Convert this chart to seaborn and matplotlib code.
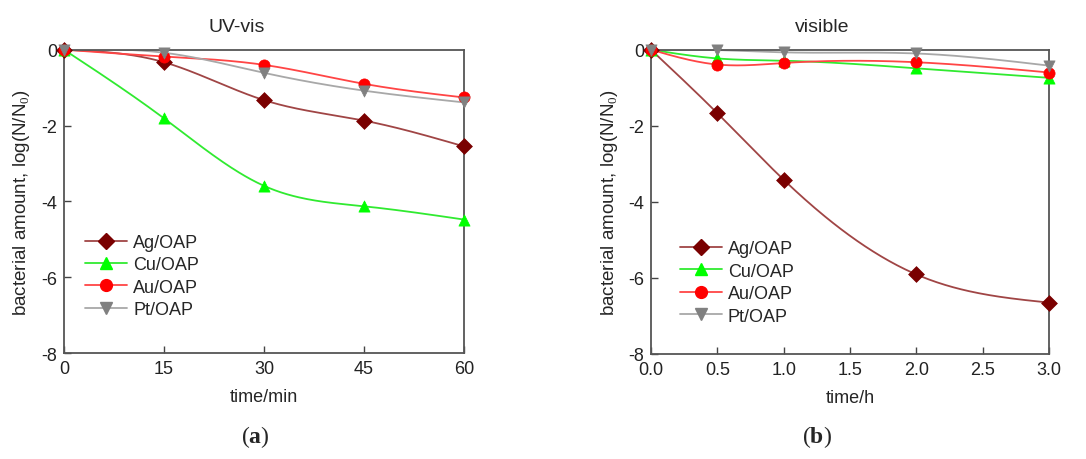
import numpy as np
import pandas as pd
import seaborn as sns
import matplotlib.pyplot as plt
from matplotlib.lines import Line2D

# values
samples = ["Ag/OAP", "Cu/OAP", "Au/OAP", "Pt/OAP"]

time_uv = [0, 15, 30, 45, 60]
ag_uv = [0, -0.33, -1.33, -1.87, -2.55]
cu_uv = [0, -1.81, -3.59, -4.13, -4.48]
au_uv = [0, -0.18, -0.40, -0.90, -1.26]
pt_uv = [0, -0.08, -0.61, -1.08, -1.39]

time_vis = [0, 0.5, 1.0, 2.0, 3.0]
ag_vis = [0, -1.67, -3.42, -5.91, -6.65]
cu_vis = [0, -0.23, -0.29, -0.49, -0.74]
au_vis = [0, -0.39, -0.35, -0.33, -0.60]
pt_vis = [0, -0.01, -0.07, -0.10, -0.42]

markers = ["D", "^", "o", "v"]
mark_cols = ["#7a0000", "#00ff00", "#ff0000", "#808080"]
line_cols = ["#a04545", "#30ea30", "#ff4545", "#a8a8a8"]

sns.set_theme(style="ticks")
plt.rcParams['font.family'] = ['Liberation Sans', 'DejaVu Sans']
plt.rcParams['axes.unicode_minus'] = False
plt.rcParams['mathtext.fontset'] = 'custom'
plt.rcParams['mathtext.rm'] = 'Liberation Serif'
plt.rcParams['mathtext.bf'] = 'Liberation Serif:bold'


def smooth(x, y, n=200):
    # natural cubic spline just for drawing the connecting curve (like Origin's spline line)
    x = np.asarray(x, float); y = np.asarray(y, float)
    k = len(x); h = np.diff(x)
    A = np.zeros((k, k)); b = np.zeros(k)
    A[0, 0] = A[-1, -1] = 1
    for i in range(1, k - 1):
        A[i, i - 1] = h[i - 1]; A[i, i] = 2 * (h[i - 1] + h[i]); A[i, i + 1] = h[i]
        b[i] = 3 * ((y[i + 1] - y[i]) / h[i] - (y[i] - y[i - 1]) / h[i - 1])
    c = np.linalg.solve(A, b)
    xs = np.linspace(x[0], x[-1], n)
    idx = np.clip(np.searchsorted(x, xs) - 1, 0, k - 2)
    dx = xs - x[idx]
    bb = (y[1:] - y[:-1]) / h - h * (2 * c[:-1] + c[1:]) / 3
    d = (c[1:] - c[:-1]) / (3 * h)
    ys = y[idx] + bb[idx] * dx + c[idx] * dx ** 2 + d[idx] * dx ** 3
    return xs, ys


def draw(ax, t, series, xticks, xlabel, leg_x, leg_y):
    for i, (name, vals) in enumerate(zip(samples, series)):
        xs, ys = smooth(t, vals)
        sns.lineplot(x=xs, y=ys, ax=ax, color=line_cols[i], lw=1.3, sort=False, zorder=2)
        df = pd.DataFrame({"t": t, "v": vals})
        sns.scatterplot(data=df, x="t", y="v", ax=ax, marker=markers[i], color=mark_cols[i],
                        s=65, edgecolor=mark_cols[i], linewidth=0.5, zorder=3 + i, clip_on=False)
    ax.set_xlim(xticks[0], xticks[-1])
    ax.set_ylim(-8, 0)
    ax.set_xticks(xticks)
    ax.set_yticks([0, -2, -4, -6, -8])
    ax.set_xlabel(xlabel, fontsize=13, va="center")
    ax.set_ylabel("bacterial amount, log(N/N$_0$)", fontsize=13.5, va="center")
    ax.yaxis.set_label_coords(-0.105, 0.5)
    ax.xaxis.set_label_coords(0.5, -0.142)
    ax.tick_params(direction="in", length=5, width=1, labelsize=13, color="#444444",
                   labelcolor="#222222", pad=5)
    for sp in ax.spines.values():
        sp.set_color("#555555")
        sp.set_linewidth(1.3)
    handles = [Line2D([], [], color=line_cols[i], marker=markers[i], markerfacecolor=mark_cols[i],
                      markeredgecolor=mark_cols[i], markersize=8.5, lw=1.3) for i in range(4)]
    ax.legend(handles, samples, loc="center left", bbox_to_anchor=(leg_x, leg_y), frameon=False,
              fontsize=13, handlelength=2.3, handletextpad=0.35, labelspacing=0.3, borderaxespad=0)


fig = plt.figure(figsize=(10.86, 4.6), dpi=100)
ax1 = fig.add_axes([0.0589, 0.2304, 0.3683, 0.6594])
ax2 = fig.add_axes([0.5994, 0.2283, 0.3667, 0.6615])

draw(ax1, time_uv, [ag_uv, cu_uv, au_uv, pt_uv], [0, 15, 30, 45, 60], "time/min", 0.035, 0.254)
draw(ax2, time_vis, [ag_vis, cu_vis, au_vis, pt_vis], [0, 0.5, 1.0, 1.5, 2.0, 2.5, 3.0], "time/h", 0.055, 0.235)
ax2.set_xticklabels(["0.0", "0.5", "1.0", "1.5", "2.0", "2.5", "3.0"])

fig.text(237 / 1086, 1 - 27 / 460, "UV-vis", ha="center", va="center", fontsize=14)
fig.text(822 / 1086, 1 - 27 / 460, "visible", ha="center", va="center", fontsize=14)
fig.text(255 / 1086, 1 - 437 / 460, r"$\mathrm{(}\mathbf{a}\mathrm{)}$", ha="center", va="center", fontsize=17)
fig.text(817 / 1086, 1 - 437 / 460, r"$\mathrm{(}\mathbf{b}\mathrm{)}$", ha="center", va="center", fontsize=17)

fig.savefig("out.png", dpi=100)
